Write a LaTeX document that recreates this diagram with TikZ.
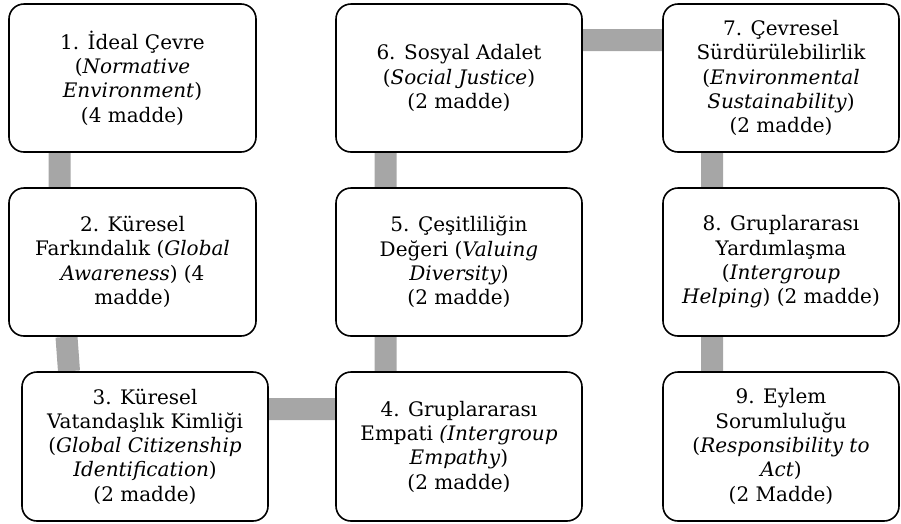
\documentclass[tikz,border=0pt]{standalone}
\usepackage{fontspec}
\setmainfont{DejaVu Serif}
\usepackage{xcolor}
\usetikzlibrary{positioning, backgrounds}
\definecolor{barcol}{HTML}{A6A6A6}
\tikzset{
    box/.style={draw, line width=1.6pt, rounded corners=15pt, fill=white, align=center,
        minimum width=247pt, minimum height=148pt, inner sep=0pt,
        font=\fontsize{20}{24.3}\selectfont},
    bar/.style={draw=barcol, line width=22pt}
}

\begin{document}
\begin{tikzpicture}[x=1pt, y=-1pt]
                        \useasboundingbox (0, 0) rectangle (901, 523);
                        \node[box] (b1) at (132.5, 78) {1. İdeal Çevre\\(\textit{Normative}\\\textit{Environment})\\(4 madde)};
                        \node[box] (b2) at (132.5, 262) {2. Küresel\\Farkındalık (\textit{Global}\\\textit{Awareness}) (4\\madde)};
                        \node[box, minimum width=246pt, minimum height=149pt] (b3) at (145, 446.5) {3. Küresel\\Vatandaşlık Kimliği\\(\textit{Global Citizenship}\\\textit{Identification})\\(2 madde)};
                        \node[box, minimum width=246pt, minimum height=149pt] (b4) at (459, 446.5) {4. Gruplararası\\Empati \textit{(Intergroup}\\\textit{Empathy})\\(2 madde)};
                        \node[box, minimum width=246pt] (b5) at (459, 262) {5. Çeşitliliğin\\Değeri (\textit{Valuing}\\\textit{Diversity})\\(2 madde)};
                        \node[box, minimum width=246pt] (b6) at (459, 78) {6. Sosyal Adalet\\(\textit{Social Justice})\\(2 madde)};
                        \node[box, minimum width=236pt] (b7) at (781, 78) {7. Çevresel\\Sürdürülebilirlik\\(\textit{Environmental}\\\textit{Sustainability})\\(2 madde)};
                        \node[box, minimum width=236pt] (b8) at (781, 262) {8. Gruplararası\\Yardımlaşma\\(\textit{Intergroup}\\\textit{Helping}) (2 madde)};
                        \node[box, minimum width=236pt, minimum height=149pt] (b9) at (781, 446.5) {9. Eylem\\Sorumluluğu\\(\textit{Responsibility to}\\\textit{Act})\\(2 Madde)};
                        % gray links behind the boxes
                        \begin{scope}[on background layer]
                        \draw[bar]
                        ([xshift=-73pt]b1.south) -- ([xshift=-73pt]b2.north)
                        ([xshift=-66pt]b2.south) -- ([xshift=-76pt]b3.north)
                        ([yshift=37.5pt]b3.east) -- ([yshift=37.5pt]b4.west)
                        ([xshift=-73.5pt]b4.north) -- ([xshift=-73.5pt]b5.south)
                        ([xshift=-73.5pt]b5.north) -- ([xshift=-73.5pt]b6.south)
                        ([yshift=38pt]b6.east) -- ([yshift=38pt]b7.west)
                        ([xshift=-69pt]b7.south) -- ([xshift=-69pt]b8.north)
                        ([xshift=-69pt]b8.south) -- ([xshift=-69pt]b9.north);
                        \end{scope}
                    \end{tikzpicture}
\end{document}
